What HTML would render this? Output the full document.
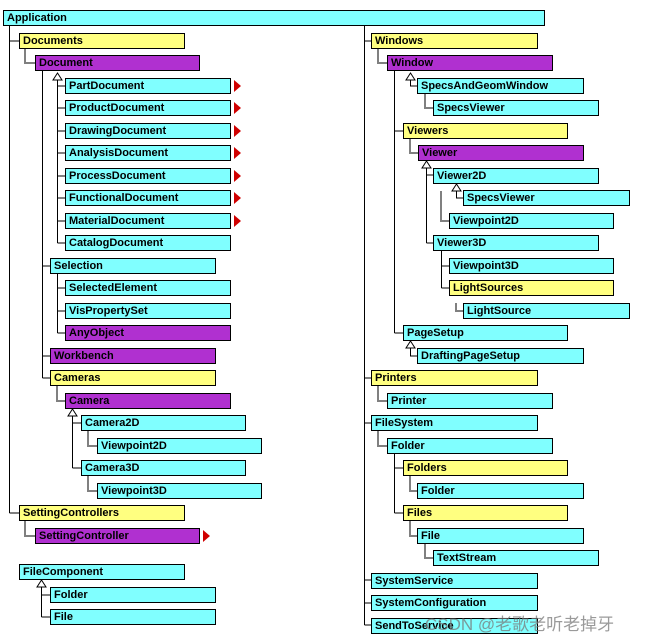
<!DOCTYPE html>
<html><head><meta charset="utf-8"><style>
body{margin:0;width:647px;height:641px;background:#fff;position:relative;overflow:hidden;font-family:"Liberation Sans",Arial,sans-serif}
.b{position:absolute;height:14px;border:1px solid #000;background:#80ffff;font-size:11px;font-weight:bold;line-height:14px;padding-left:3px;box-sizing:content-box;white-space:nowrap;color:#000}
.y{background:#ffff80}.p{background:#b030d0}
.r{position:absolute;width:0;height:0;border-top:6px solid transparent;border-bottom:6px solid transparent;border-left:7px solid #d00000}
svg{position:absolute;left:0;top:0}
</style></head><body>
<svg width="647" height="641">
<g stroke="#000" stroke-width="1" fill="none">
<path d="M9.5 26V513M9.5 41H19M9.5 513H19"/>
<path d="M364.5 26V625M364.5 41H371M364.5 378H371M364.5 423H371M364.5 580H371M364.5 603H371M364.5 625H371"/>
<path d="M57.5 80V243M57.5 86H65M57.5 108H65M57.5 131H65M57.5 153H65M57.5 176H65M57.5 198H65M57.5 221H65M57.5 243H65"/>
<path d="M42.5 71V378M42.5 266H50M42.5 356H50M42.5 378H50"/>
<path d="M57.5 274V333M57.5 288H65M57.5 311H65M57.5 333H65"/>
<path d="M72.5 416V468M72.5 423H81M72.5 468H81"/>
<path d="M41.5 587V617M41.5 595H50M41.5 617H50"/>
<path d="M410.5 80V86H417"/>
<path d="M394.5 71V333M394.5 131H403M394.5 333H403"/>
<path d="M426.5 168V243M426.5 175H433M426.5 243H433"/>
<path d="M456.5 191V198H463"/>
<path d="M441.5 251V288M441.5 266H449M441.5 288H449"/>
<path d="M410.5 348V356H417"/>
<path d="M394.5 453V513M394.5 468H403M394.5 513H403"/>
</g>
<g stroke="#808080" stroke-width="2" fill="none">
<path d="M25 48V63H35M57 386V401H65M88 431V446H97M88 476V491H97M25 521V536H35"/>
<path d="M378 48V63H387M425 93V108H433M410 138V153H418M441 191V221H449M456 303V311H463M378 386V401H387M378 431V446H387M410 476V491H417M410 521V536H417M425 543V558H433"/>
</g>
<g fill="#fff" stroke="#000" stroke-width="1">
<path d="M57.5 73L53 80H62Z"/><path d="M72.5 409L68 416H77Z"/><path d="M41.5 580L37 587H46Z"/>
<path d="M410.5 73L406 80H415Z"/><path d="M426.5 161L422 168H431Z"/><path d="M456.5 184L452 191H461Z"/><path d="M410.5 341L406 348H415Z"/>
</g>
</svg>
<div class="b" style="left:3px;top:10px;width:537px">Application</div>
<div class="b y" style="left:19px;top:33px;width:161px">Documents</div>
<div class="b p" style="left:35px;top:55px;width:160px">Document</div>
<div class="b" style="left:65px;top:78px;width:161px">PartDocument</div>
<div class="b" style="left:65px;top:100px;width:161px">ProductDocument</div>
<div class="b" style="left:65px;top:123px;width:161px">DrawingDocument</div>
<div class="b" style="left:65px;top:145px;width:161px">AnalysisDocument</div>
<div class="b" style="left:65px;top:168px;width:161px">ProcessDocument</div>
<div class="b" style="left:65px;top:190px;width:161px">FunctionalDocument</div>
<div class="b" style="left:65px;top:213px;width:161px">MaterialDocument</div>
<div class="b" style="left:65px;top:235px;width:161px">CatalogDocument</div>
<div class="b" style="left:50px;top:258px;width:161px">Selection</div>
<div class="b" style="left:65px;top:280px;width:161px">SelectedElement</div>
<div class="b" style="left:65px;top:303px;width:161px">VisPropertySet</div>
<div class="b p" style="left:65px;top:325px;width:161px">AnyObject</div>
<div class="b p" style="left:50px;top:348px;width:161px">Workbench</div>
<div class="b y" style="left:50px;top:370px;width:161px">Cameras</div>
<div class="b p" style="left:65px;top:393px;width:161px">Camera</div>
<div class="b" style="left:81px;top:415px;width:160px">Camera2D</div>
<div class="b" style="left:97px;top:438px;width:160px">Viewpoint2D</div>
<div class="b" style="left:81px;top:460px;width:160px">Camera3D</div>
<div class="b" style="left:97px;top:483px;width:160px">Viewpoint3D</div>
<div class="b y" style="left:19px;top:505px;width:161px">SettingControllers</div>
<div class="b p" style="left:35px;top:528px;width:160px">SettingController</div>
<div class="b" style="left:19px;top:564px;width:161px">FileComponent</div>
<div class="b" style="left:50px;top:587px;width:161px">Folder</div>
<div class="b" style="left:50px;top:609px;width:161px">File</div>
<div class="r" style="left:234px;top:80px"></div><div class="r" style="left:234px;top:102px"></div><div class="r" style="left:234px;top:125px"></div><div class="r" style="left:234px;top:147px"></div><div class="r" style="left:234px;top:170px"></div><div class="r" style="left:234px;top:192px"></div><div class="r" style="left:234px;top:215px"></div><div class="r" style="left:203px;top:530px"></div>
<div class="b y" style="left:371px;top:33px;width:162px">Windows</div>
<div class="b p" style="left:387px;top:55px;width:161px">Window</div>
<div class="b" style="left:417px;top:78px;width:162px">SpecsAndGeomWindow</div>
<div class="b" style="left:433px;top:100px;width:161px">SpecsViewer</div>
<div class="b y" style="left:403px;top:123px;width:160px">Viewers</div>
<div class="b p" style="left:418px;top:145px;width:161px">Viewer</div>
<div class="b" style="left:433px;top:168px;width:161px">Viewer2D</div>
<div class="b" style="left:463px;top:190px;width:162px">SpecsViewer</div>
<div class="b" style="left:449px;top:213px;width:160px">Viewpoint2D</div>
<div class="b" style="left:433px;top:235px;width:161px">Viewer3D</div>
<div class="b" style="left:449px;top:258px;width:160px">Viewpoint3D</div>
<div class="b y" style="left:449px;top:280px;width:160px">LightSources</div>
<div class="b" style="left:463px;top:303px;width:162px">LightSource</div>
<div class="b" style="left:403px;top:325px;width:160px">PageSetup</div>
<div class="b" style="left:417px;top:348px;width:162px">DraftingPageSetup</div>
<div class="b y" style="left:371px;top:370px;width:162px">Printers</div>
<div class="b" style="left:387px;top:393px;width:161px">Printer</div>
<div class="b" style="left:371px;top:415px;width:162px">FileSystem</div>
<div class="b" style="left:387px;top:438px;width:161px">Folder</div>
<div class="b y" style="left:403px;top:460px;width:160px">Folders</div>
<div class="b" style="left:417px;top:483px;width:162px">Folder</div>
<div class="b y" style="left:403px;top:505px;width:160px">Files</div>
<div class="b" style="left:417px;top:528px;width:162px">File</div>
<div class="b" style="left:433px;top:550px;width:161px">TextStream</div>
<div class="b" style="left:371px;top:573px;width:162px">SystemService</div>
<div class="b" style="left:371px;top:595px;width:162px">SystemConfiguration</div>
<div class="b" style="left:371px;top:618px;width:162px">SendToService</div>
<div style="position:absolute;left:425px;top:610px;font-size:17px;color:rgba(120,120,120,0.75);font-family:'Liberation Sans','Noto Sans CJK SC',sans-serif;white-space:nowrap">CSDN @老歌老听老掉牙</div>
</body></html>
